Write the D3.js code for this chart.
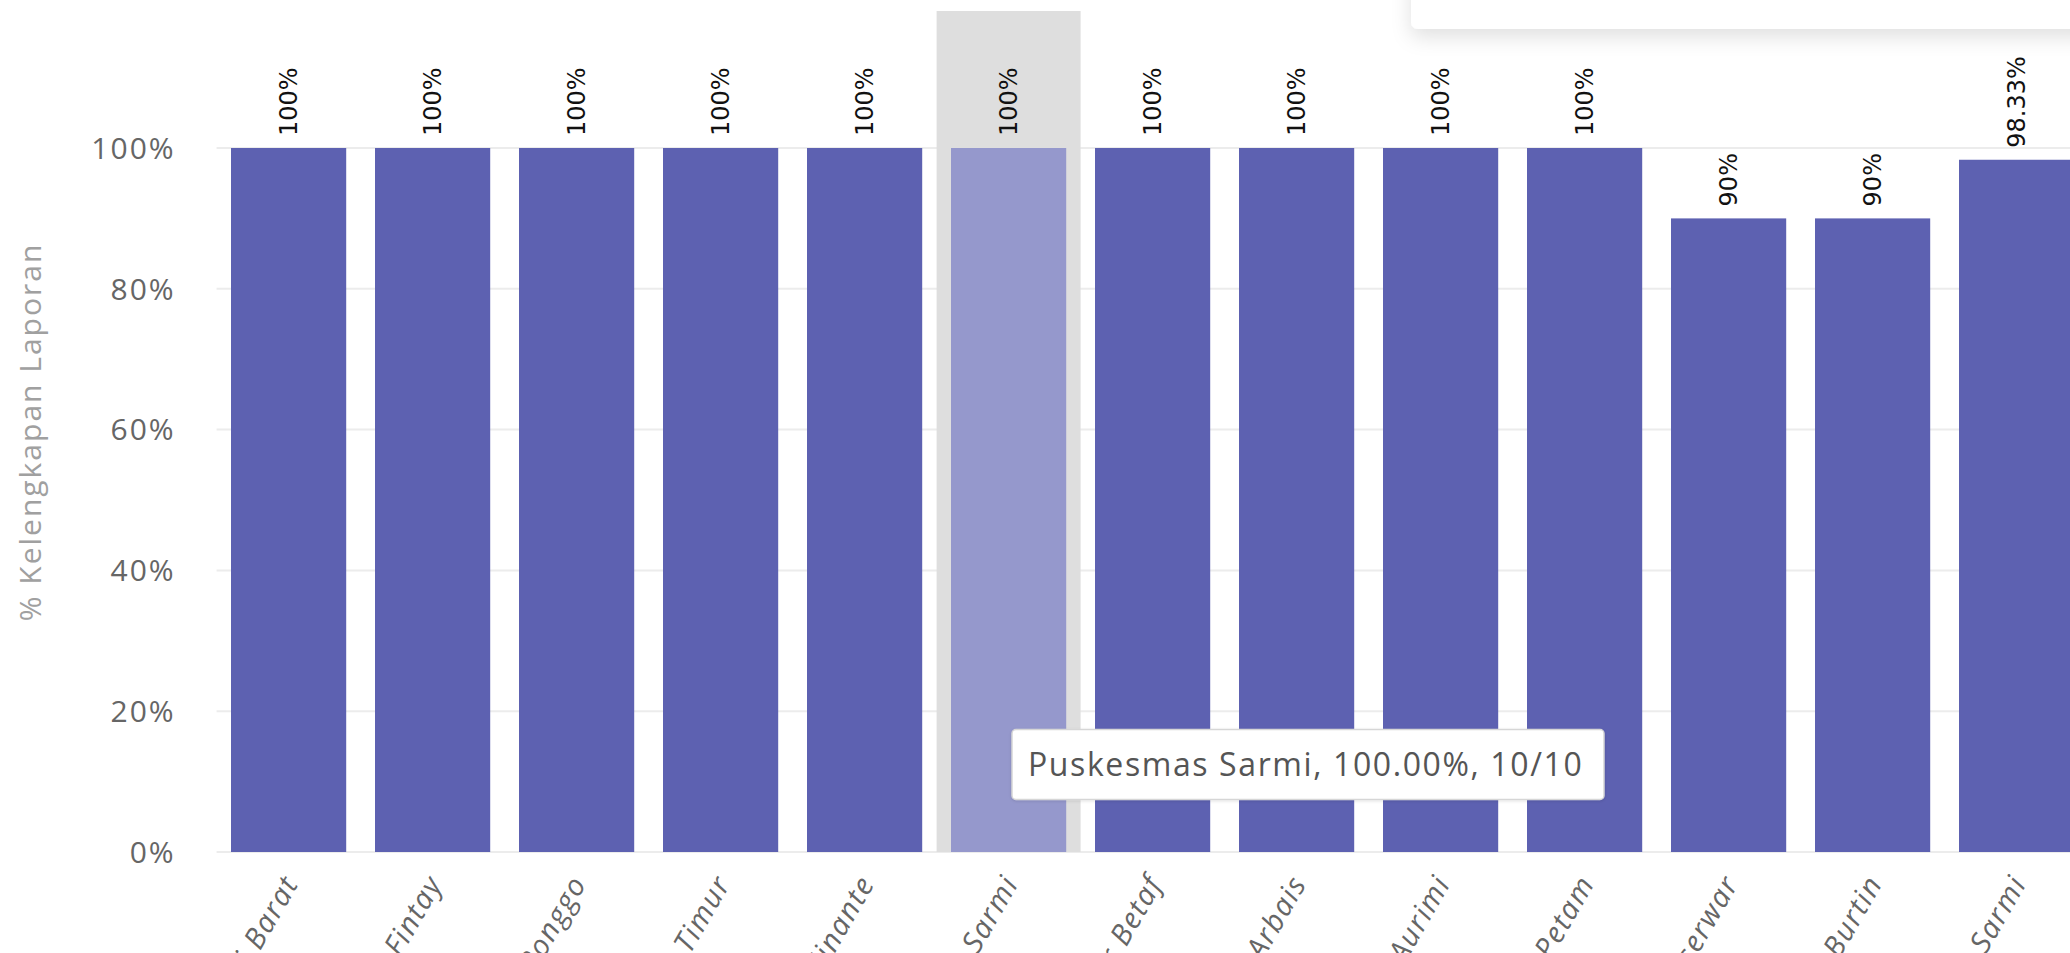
<!DOCTYPE html>
<html>
<head>
<meta charset="utf-8">
<script src="https://cdn.jsdelivr.net/npm/d3@7/dist/d3.min.js"></script>
<style>
  html, body { margin: 0; padding: 0; background: #ffffff; overflow: hidden; }
  svg { display: block; }
</style>
</head>
<body>
<svg id="chart" width="2070" height="953"></svg>
<script>
// ---- data ----
const categories = [
  "Puskesmas Pantai Barat",
  "Puskesmas Fintay",
  "Puskesmas Bonggo",
  "Puskesmas Bonggo Timur",
  "Puskesmas Ninante",
  "Puskesmas Sarmi",
  "Puskesmas Timur Betaf",
  "Puskesmas Arbais",
  "Puskesmas Aurimi",
  "Puskesmas Petam",
  "Puskesmas Bagaiserwar",
  "Puskesmas Burtin",
  "Kabupaten Sarmi"
];
const values = [100, 100, 100, 100, 100, 100, 100, 100, 100, 100, 90, 90, 98.33];
const valueLabels = ["100%", "100%", "100%", "100%", "100%", "100%", "100%", "100%", "100%", "100%", "90%", "90%", "98.33%"];
const yTicks = [0, 20, 40, 60, 80, 100];
const yTickLabels = ["0%", "20%", "40%", "60%", "80%", "100%"];
const yAxisTitle = "% Kelengkapan Laporan";
const hovered = "Puskesmas Sarmi";
const tooltipText = "Puskesmas Sarmi, 100.00%, 10/10";

// ---- layout ----
const svg = d3.select("#chart");
const plotLeft = 216.6, plotTop = 148, plotBottom = 852;
const step = 144;

const x = d3.scaleBand()
  .domain(categories)
  .range([plotLeft, plotLeft + step * categories.length])
  .paddingInner(0.2)
  .paddingOuter(0.1);

const y = d3.scaleLinear().domain([0, 100]).range([plotBottom, plotTop]);

const defs = svg.append("defs");
const f = defs.append("filter").attr("id", "shadow").attr("x", "-20%").attr("y", "-100%").attr("width", "140%").attr("height", "300%");
f.append("feDropShadow").attr("dx", 0).attr("dy", 8).attr("stdDeviation", 10).attr("flood-color", "#000").attr("flood-opacity", 0.12);
const f2 = defs.append("filter").attr("id", "tshadow").attr("x", "-10%").attr("y", "-30%").attr("width", "120%").attr("height", "160%");
f2.append("feDropShadow").attr("dx", 0).attr("dy", 1).attr("stdDeviation", 1.5).attr("flood-color", "#000").attr("flood-opacity", 0.12);

// gridlines
const grid = svg.append("g").attr("class", "grid");
grid.selectAll("line").data(yTicks).join("line")
  .attr("x1", plotLeft).attr("x2", 2070)
  .attr("y1", d => y(d)).attr("y2", d => y(d))
  .attr("stroke", "#ececec").attr("stroke-width", 2);

// y tick labels
svg.append("g").selectAll("text").data(yTicks).join("text")
  .attr("x", plotLeft - 41)
  .attr("y", d => y(d))
  .attr("dy", "0.36em")
  .attr("text-anchor", "end")
  .attr("font-family", "'Open Sans', sans-serif")
  .attr("font-size", 30)
  .attr("letter-spacing", 2)
  .attr("fill", "#666")
  .text((d, i) => yTickLabels[i]);

// y axis title
svg.append("text")
  .attr("transform", `translate(30, ${(plotTop + plotBottom) / 2 - 68}) rotate(-90)`)
  .attr("dy", "0.35em")
  .attr("text-anchor", "middle")
  .attr("font-family", "'Open Sans', sans-serif")
  .attr("font-size", 30)
  .attr("letter-spacing", 2)
  .attr("fill", "#a0a0a0")
  .text(yAxisTitle);

// hover band
svg.append("rect")
  .attr("x", x(hovered) - x.step() * x.paddingInner() / 2)
  .attr("y", 11)
  .attr("width", x.step())
  .attr("height", plotBottom - 11)
  .attr("fill", "#dedede");

// bars
svg.append("g").selectAll("rect").data(categories).join("rect")
  .attr("x", d => x(d))
  .attr("y", (d, i) => y(values[i]))
  .attr("width", x.bandwidth())
  .attr("height", (d, i) => y(0) - y(values[i]))
  .attr("fill", d => d === hovered ? "#9598cc" : "#5d61b1");

// value labels
svg.append("g").selectAll("text").data(categories).join("text")
  .attr("transform", (d, i) => `translate(${x(d) + x.bandwidth() / 2}, ${y(values[i]) - 12}) rotate(-90)`)
  .attr("dy", "0.35em")
  .attr("text-anchor", "start")
  .attr("font-family", "'DejaVu Sans', sans-serif")
  .attr("font-size", 24)
  .attr("fill", "#111")
  .text((d, i) => valueLabels[i]);

// x labels
svg.append("g").selectAll("text").data(categories).join("text")
  .attr("transform", d => `translate(${x(d) + x.bandwidth() / 2 + 2}, ${plotBottom + 26}) rotate(-60)`)
  .attr("dy", "0.35em")
  .attr("text-anchor", "end")
  .attr("font-family", "'Open Sans', sans-serif")
  .attr("font-style", "italic")
  .attr("font-size", 29)
  .attr("letter-spacing", 1.5)
  .attr("fill", "#666")
  .text(d => d);

// top-right card (partially visible)
svg.append("rect")
  .attr("x", 1411).attr("y", -30)
  .attr("width", 720).attr("height", 59)
  .attr("rx", 7)
  .attr("fill", "#fff")
  .attr("filter", "url(#shadow)");

// tooltip
const tipX = x(hovered) + 61, tipY = y(17.4);
const tip = svg.append("g").attr("transform", `translate(${tipX}, ${tipY})`);
tip.append("rect")
  .attr("width", 592).attr("height", 70)
  .attr("rx", 4)
  .attr("fill", "#fff")
  .attr("stroke", "#d6d6d6")
  .attr("stroke-width", 1.5)
  .attr("filter", "url(#tshadow)");
tip.append("text")
  .attr("x", 16).attr("y", 35)
  .attr("dy", "0.35em")
  .attr("font-family", "'Open Sans', sans-serif")
  .attr("font-size", 32)
  .attr("letter-spacing", 1.6)
  .attr("fill", "#555")
  .text(tooltipText);
</script>
</body>
</html>
